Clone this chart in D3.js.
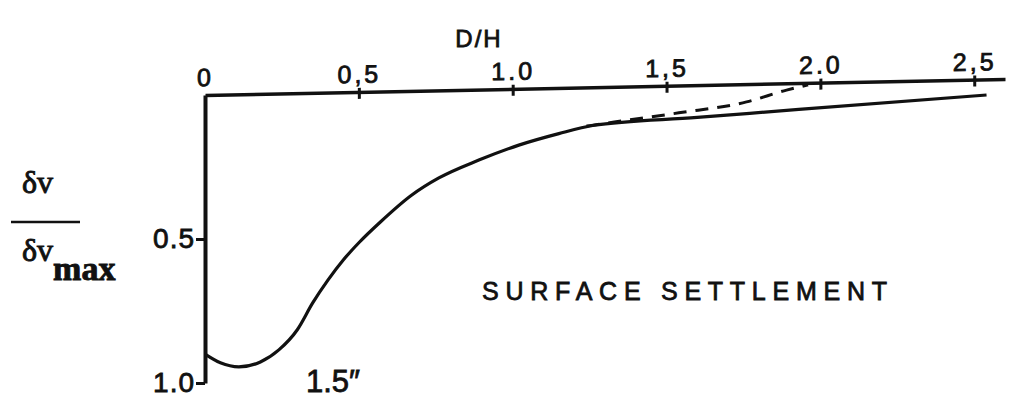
<!DOCTYPE html>
<html>
<head>
<meta charset="utf-8">
<script src="https://cdn.jsdelivr.net/npm/d3@7"></script>
<style>
  body { margin: 0; background: #fff; }
  svg { display: block; }
  .lbl { font-family: "Liberation Sans", Arial, sans-serif; fill: #111; stroke: #111; stroke-width: 0.8px; }
</style>
</head>
<body>
<svg id="board" width="1010" height="413"></svg>
<script>
// x ticks along the top axis (D/H) and their printed labels
let xTicks = [0, 0.5, 1.0, 1.5, 2.0, 2.5]
let xTickLabels = ['0', '0,5', '1.0', '1,5', '2.0', '2,5']
// y ticks (settlement ratio, downward)
let yTicks = [0.5, 1.0]
let yTickLabels = ['0.5', '1.0']

// main settlement curve
let solidX = [0, 0.05, 0.11, 0.18, 0.24, 0.30, 0.35, 0.40, 0.45, 0.50, 0.57, 0.67, 0.76, 0.89, 1.02, 1.15, 1.26, 1.60, 1.93, 2.54]
let solidY = [0.90, 0.93, 0.944, 0.927, 0.885, 0.815, 0.722, 0.642, 0.572, 0.513, 0.441, 0.349, 0.288, 0.226, 0.174, 0.134, 0.106, 0.078, 0.05, 0.0]

// dashed branch leaving the curve near D/H = 1.2
let dashX = [1.24, 1.33, 1.54, 1.76, 1.89, 1.96]
let dashY = [0.108, 0.094, 0.062, 0.024, -0.017, -0.035]

let board = d3.select('#board')

let x = d3.scaleLinear().domain([0, 2.6]).range([205, 1005])
let y = d3.scaleLinear().domain([0, 1]).range([95, 383])

// the scanned top axis leans up slightly to the right
let lean = -1.15

let xAxis = d3.axisTop(x)
    .tickValues(xTicks)
    .tickFormat((d, i) => xTickLabels[i])
    .tickSizeInner(0)
    .tickSizeOuter(0)
    .tickPadding(9)

let gx = board.append('g')
    .attr('transform', `translate(${x(0)},${y(0)}) skewY(${lean}) translate(${-x(0)},0)`)
    .call(xAxis)
gx.select('.domain').attr('stroke', '#111').attr('stroke-width', 3.5)
gx.selectAll('.tick line')
    .attr('stroke', '#111').attr('stroke-width', 3)
    .attr('y1', -4).attr('y2', 7)
gx.selectAll('.tick').filter(d => d === 0).select('line').remove()
gx.selectAll('.tick text')
    .attr('class', 'lbl')
    .attr('font-size', 25)
    .attr('letter-spacing', 3)

let yAxis = d3.axisLeft(y)
    .tickValues(yTicks)
    .tickFormat((d, i) => yTickLabels[i])
    .tickSizeInner(9)
    .tickSizeOuter(0)
    .tickPadding(1)

let gy = board.append('g')
    .attr('transform', `translate(${x(0)},0)`)
    .call(yAxis)
gy.select('.domain').attr('stroke', '#111').attr('stroke-width', 4)
gy.selectAll('.tick line').attr('stroke', '#111').attr('stroke-width', 3)
gy.selectAll('.tick text')
    .attr('class', 'lbl')
    .attr('font-size', 28)
    .attr('letter-spacing', 1)

let line = d3.line()
    .x(d => x(d[0]))
    .y(d => y(d[1]))
    .curve(d3.curveMonotoneX)

board.append('path')
    .datum(solidX.map((v, i) => [v, solidY[i]]))
    .attr('d', line)
    .attr('fill', 'none')
    .attr('stroke', '#111')
    .attr('stroke-width', 3.2)

board.append('path')
    .datum(dashX.map((v, i) => [v, dashY[i]]))
    .attr('d', line)
    .attr('fill', 'none')
    .attr('stroke', '#111')
    .attr('stroke-width', 3)
    .attr('stroke-dasharray', '13 9')

// axis title
board.append('text')
    .attr('class', 'lbl')
    .attr('x', 479).attr('y', 47)
    .attr('text-anchor', 'middle')
    .attr('font-size', 24)
    .attr('letter-spacing', 2)
    .text('D/H')

// y label as a fraction
let serif = '"Liberation Serif", "DejaVu Serif", serif'
board.append('text')
    .attr('x', 22).attr('y', 193)
    .attr('font-family', serif).attr('font-size', 32)
    .attr('fill', '#111').attr('stroke', '#111').attr('stroke-width', 0.9)
    .text('δv')
board.append('line')
    .attr('x1', 11).attr('x2', 80).attr('y1', 222).attr('y2', 222)
    .attr('stroke', '#111').attr('stroke-width', 2.5)
let den = board.append('text')
    .attr('x', 22).attr('y', 261)
    .attr('font-family', serif).attr('font-size', 32)
    .attr('fill', '#111').attr('stroke', '#111').attr('stroke-width', 0.9)
den.append('tspan').text('δv')
den.append('tspan').attr('dy', 19).attr('font-size', 34).attr('font-weight', 'bold').text('max')

board.append('text')
    .attr('class', 'lbl')
    .attr('x', 482).attr('y', 300)
    .attr('font-size', 25)
    .attr('textLength', 405)
    .attr('lengthAdjust', 'spacing')
    .text('SURFACE SETTLEMENT')

board.append('text')
    .attr('class', 'lbl')
    .attr('x', 306).attr('y', 392)
    .attr('font-size', 31)
    .text('1.5″')
</script>
</body>
</html>
